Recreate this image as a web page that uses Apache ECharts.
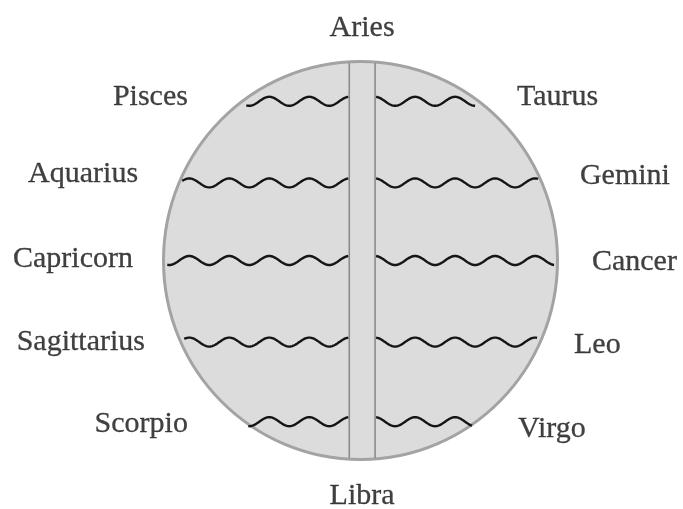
<!DOCTYPE html>
<html>
<head>
<meta charset="utf-8">
<script src="https://cdn.jsdelivr.net/npm/echarts@6/dist/echarts.min.js"></script>
<style>
html, body { margin: 0; background: #fff; }
#container { width: 683px; height: 509px; }
</style>
</head>
<body>
<div id="container"></div>
<script>
// signs around the circle
var leftSigns = ['Pisces', 'Aquarius', 'Capricorn', 'Sagittarius', 'Scorpio'];
var rightSigns = ['Taurus', 'Gemini', 'Cancer', 'Leo', 'Virgo'];
var poleSigns = ['Aries', 'Libra'];
// height of each wavy row (circle radius = 1)
var rowLevels = [0.8, 0.39, 0, -0.41, -0.81];

// layout
var leftLabelX = [-0.876, -1.129, -1.155, -1.094, -0.876];
var rightLabelX = [0.794, 1.114, 1.175, 1.084, 0.80];
var leftLabelY = [0.82, 0.435, 0.008, -0.41, -0.82];
var rightLabelY = [0.82, 0.425, -0.01, -0.425, -0.847];
var poleLabelY = [1.17, -1.183];
var barX = [-0.057, 0.074];
var WAVE_LEN = 40, WAVE_AMP = 4.5;

var myChart = echarts.init(document.getElementById('container'));

var waveData = [];
rowLevels.forEach(function (y) {
    waveData.push([y, -1]);
    waveData.push([y, 1]);
});

var labelData = [];
leftSigns.forEach(function (n, i) {
    labelData.push({name: n, value: [leftLabelX[i], leftLabelY[i]], label: {position: 'left'}});
});
rightSigns.forEach(function (n, i) {
    labelData.push({name: n, value: [rightLabelX[i], rightLabelY[i]], label: {position: 'right'}});
});
poleSigns.forEach(function (n, i) {
    labelData.push({name: n, value: [0.008, poleLabelY[i]], label: {position: 'inside'}});
});

function renderDisc(params, api) {
    var c = api.coord([0, 0]);
    var s = api.size([2, 2]);
    var children = [{
        type: 'ellipse',
        shape: {cx: c[0], cy: c[1], rx: s[0] / 2, ry: s[1] / 2},
        style: {fill: '#dcdcdc', stroke: '#a3a3a3', lineWidth: 3}
    }];
    barX.forEach(function (x) {
        var h = Math.sqrt(1 - x * x);
        var a = api.coord([x, h]);
        var b = api.coord([x, -h]);
        children.push({
            type: 'line',
            shape: {x1: a[0], y1: a[1] + 1, x2: b[0], y2: b[1] - 1},
            style: {stroke: '#8c8c8c', lineWidth: 1.6}
        });
    });
    return {type: 'group', children: children};
}

function renderWave(params, api) {
    var y = api.value(0);
    var side = api.value(1);
    var edge = Math.sqrt(1 - y * y);
    var p0 = api.coord([side < 0 ? barX[0] : barX[1], y]);
    var p1 = api.coord([side * edge, y]);
    var len = Math.abs(p1[0] - p0[0]) - 3;
    var pts = [];
    for (var d = 1; d <= len; d += 1) {
        pts.push([p0[0] + side * d, p0[1] - WAVE_AMP * Math.cos(2 * Math.PI * d / WAVE_LEN)]);
    }
    return {
        type: 'polyline',
        shape: {points: pts},
        style: {stroke: '#151515', lineWidth: 2.4, fill: null}
    };
}

var option = {
    animation: false,
    grid: {left: 163.5, top: 61.5, width: 394, height: 398},
    xAxis: {type: 'value', min: -1, max: 1, show: false},
    yAxis: {type: 'value', min: -1, max: 1, show: false},
    series: [
        {
            type: 'custom',
            silent: true,
            clip: false,
            data: [[0, 0]],
            renderItem: renderDisc
        },
        {
            type: 'custom',
            silent: true,
            clip: false,
            data: waveData,
            renderItem: renderWave
        },
        {
            type: 'scatter',
            silent: true,
            clip: false,
            symbolSize: 0,
            data: labelData,
            label: {
                show: true,
                formatter: '{b}',
                distance: 0,
                color: '#111',
                textBorderColor: '#111',
                textBorderWidth: 0.3,
                fontFamily: 'Liberation Serif',
                fontSize: 30
            }
        }
    ]
};
myChart.setOption(option);
</script>
</body>
</html>
